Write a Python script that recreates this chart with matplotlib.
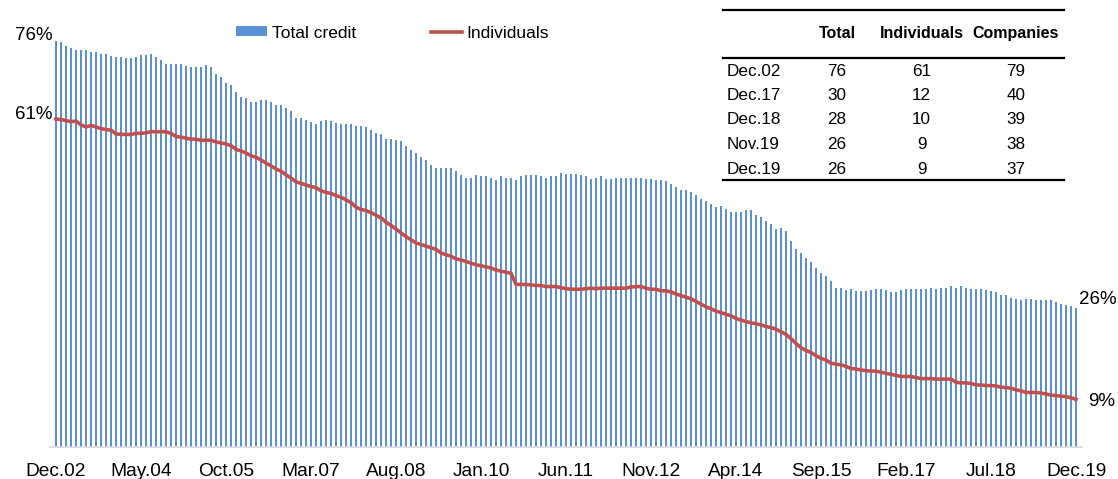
import matplotlib
matplotlib.use("Agg")
import matplotlib.pyplot as plt
from matplotlib.lines import Line2D
from matplotlib.patches import Patch

plt.rcParams['font.family'] = ['Liberation Sans', 'DejaVu Sans']

# ---- data ----
total_credit = [
    76.2, 76.0, 75.3, 74.9, 74.6, 74.5, 74.5, 74.2, 74.2, 73.9,
    73.9, 73.5, 73.3, 73.3, 73.0, 73.0, 73.3, 73.6, 73.6, 73.8,
    73.3, 72.6, 71.9, 71.9, 71.9, 71.9, 71.6, 71.3, 71.4, 71.4,
    71.7, 71.4, 70.1, 69.5, 68.4, 68.0, 66.6, 65.7, 65.5, 64.8,
    64.8, 65.2, 65.2, 64.8, 64.3, 64.3, 63.6, 63.1, 61.8, 61.8,
    61.5, 61.1, 60.7, 61.3, 61.5, 61.3, 60.9, 60.6, 60.7, 60.6,
    60.3, 60.3, 60.0, 59.5, 58.9, 58.7, 57.9, 57.9, 57.7, 57.4,
    56.5, 55.7, 55.2, 54.5, 53.8, 52.9, 52.4, 52.4, 52.4, 52.4,
    51.9, 51.0, 50.5, 50.5, 51.0, 50.8, 50.8, 50.5, 50.2, 50.8,
    50.5, 50.5, 50.1, 50.8, 51.0, 51.0, 51.0, 50.8, 50.5, 50.8,
    50.8, 51.5, 51.3, 51.3, 51.3, 51.0, 50.8, 50.4, 50.5, 50.8,
    50.4, 50.4, 50.5, 50.5, 50.5, 50.5, 50.5, 50.5, 50.4, 50.4,
    50.1, 50.1, 49.9, 49.4, 48.8, 48.3, 48.2, 47.8, 47.4, 46.6,
    46.1, 45.7, 45.0, 45.3, 44.6, 44.1, 44.1, 44.1, 44.4, 44.4,
    43.6, 43.1, 42.5, 41.9, 40.9, 41.1, 40.5, 38.6, 37.2, 36.5,
    35.5, 34.7, 33.6, 32.6, 32.0, 31.1, 29.9, 29.9, 29.4, 29.7,
    29.2, 29.2, 29.2, 29.4, 29.7, 29.7, 29.4, 29.1, 29.1, 29.4,
    29.7, 29.7, 29.7, 29.7, 29.7, 29.9, 29.7, 29.9, 29.9, 30.2,
    29.9, 30.2, 29.9, 29.7, 29.7, 29.7, 29.4, 29.2, 29.0, 28.6,
    28.6, 27.9, 27.8, 27.6, 27.8, 27.8, 27.6, 27.6, 27.6, 27.5,
    27.2, 26.8, 26.7, 26.4, 26.1,
]

individuals = [
    61.6, 61.5, 61.3, 61.1, 61.2, 60.5, 60.1, 60.4, 60.1, 59.8,
    59.6, 59.5, 58.8, 58.7, 58.7, 58.7, 58.9, 58.9, 59.0, 59.2,
    59.2, 59.2, 59.2, 58.9, 58.3, 58.2, 58.0, 57.8, 57.8, 57.6,
    57.6, 57.6, 57.3, 57.1, 56.9, 56.6, 55.9, 55.6, 55.2, 54.7,
    54.4, 53.9, 53.3, 52.8, 52.2, 51.8, 51.1, 50.5, 49.8, 49.5,
    49.2, 48.9, 48.7, 48.1, 47.8, 47.6, 47.2, 46.9, 46.4, 45.9,
    45.0, 44.6, 44.4, 44.0, 43.5, 43.0, 42.2, 41.6, 40.9, 40.2,
    39.5, 38.9, 38.3, 38.0, 37.7, 37.4, 37.1, 36.4, 36.1, 35.8,
    35.3, 35.1, 34.8, 34.5, 34.2, 34.0, 33.8, 33.6, 33.2, 33.0,
    32.8, 32.6, 30.5, 30.5, 30.5, 30.4, 30.3, 30.3, 30.1, 30.1,
    30.1, 29.9, 29.7, 29.6, 29.6, 29.6, 29.7, 29.8, 29.7, 29.8,
    29.8, 29.8, 29.8, 29.8, 29.8, 30.0, 30.1, 30.1, 29.8, 29.6,
    29.6, 29.3, 29.3, 29.1, 28.7, 28.4, 28.1, 27.8, 27.3, 26.8,
    26.3, 25.9, 25.5, 25.2, 24.9, 24.6, 24.1, 23.8, 23.5, 23.3,
    23.1, 22.9, 22.6, 22.4, 22.1, 21.6, 21.1, 20.3, 19.4, 18.6,
    18.1, 17.7, 17.1, 16.6, 16.3, 15.7, 15.5, 15.4, 15.1, 14.7,
    14.6, 14.4, 14.3, 14.2, 14.2, 14.0, 13.8, 13.6, 13.4, 13.2,
    13.2, 13.2, 13.0, 12.8, 12.8, 12.8, 12.7, 12.7, 12.7, 12.7,
    12.1, 12.0, 12.0, 11.9, 11.6, 11.6, 11.5, 11.5, 11.4, 11.2,
    11.1, 11.0, 10.7, 10.5, 10.2, 10.2, 10.2, 10.1, 9.9, 9.7,
    9.6, 9.5, 9.4, 9.2, 8.9,
]

tick_labels = ['Dec.02', 'May.04', 'Oct.05', 'Mar.07', 'Aug.08', 'Jan.10', 'Jun.11',
               'Nov.12', 'Apr.14', 'Sep.15', 'Feb.17', 'Jul.18', 'Dec.19']
tick_step = 17

table_cols = ['Total', 'Individuals', 'Companies']
table_rows = ['Dec.02', 'Dec.17', 'Dec.18', 'Nov.19', 'Dec.19']
table_total = [76, 30, 28, 26, 26]
table_individuals = [61, 12, 10, 9, 9]
table_companies = [79, 40, 39, 38, 37]

# ---- figure ----
W, H = 1118, 479
fig = plt.figure(figsize=(W / 100, H / 100), dpi=100)

def fx(px):
    return px / W

def fy(py):
    return 1 - py / H

ax = fig.add_axes([fx(50), fy(446.7), fx(1032), 425.6 / H])
n = len(total_credit)
x = list(range(n))
BLUE = '#5B8FD6'
RED = '#C0504D'
ax.bar(x, total_credit, width=0.5, color=BLUE, linewidth=0, zorder=2)
ax.plot(x, individuals, color=RED, lw=2.6, zorder=3, solid_joinstyle='round')

ax.set_xlim(-1.2, 205.2)
ax.set_ylim(0, 80)
for s in ['top', 'right', 'left']:
    ax.spines[s].set_visible(False)
ax.spines['bottom'].set_color('#D9D9D9')
ax.spines['bottom'].set_linewidth(1.2)
ax.set_yticks([])
ax.set_xticks(list(range(0, n, tick_step)))
ax.set_xticklabels(tick_labels, fontsize=13.8)
ax.tick_params(axis='x', length=0, pad=11.5)

# end-point labels (rounded values as in the table)
ax.annotate(f"{table_total[0]}%", xy=(0, total_credit[0]), xytext=(-2.5, 4.5),
            textcoords='offset points', ha='right', va='center', fontsize=13.5)
ax.annotate(f"{table_individuals[0]}%", xy=(0, individuals[0]), xytext=(-2.5, 3),
            textcoords='offset points', ha='right', va='center', fontsize=13.5)
ax.annotate(f"{table_total[-1]}%", xy=(n - 1, total_credit[-1]), xytext=(2, 6),
            textcoords='offset points', ha='left', va='center', fontsize=13.5)
ax.annotate(f"{table_individuals[-1]}%", xy=(n - 1, individuals[-1]), xytext=(8.5, -1.3),
            textcoords='offset points', ha='left', va='center', fontsize=13.5)

# legend
handles = [Patch(facecolor=BLUE, edgecolor='none', label='Total credit'),
           Line2D([0], [0], color=RED, lw=2.6, label='Individuals')]
fig.legend(handles=handles, loc='center left', bbox_to_anchor=(fx(236), fy(33)),
           bbox_transform=fig.transFigure, ncol=2, frameon=False, fontsize=12.5,
           borderpad=0, borderaxespad=0, handlelength=1.8, handleheight=0.5,
           handletextpad=0.25, columnspacing=4.35)

# table
for yy in (10, 58, 180):
    fig.add_artist(Line2D([fx(723), fx(1064)], [fy(yy), fy(yy)], color='black', lw=1.6))
col_x = [837, 921.5, 1015.7]
for cx, name in zip(col_x, table_cols):
    fig.text(fx(cx), fy(33.5), name, ha='center', va='center', fontsize=11.5, fontweight='bold')
row_y = [71, 95.7, 120, 144.3, 169.3]
for ry, lab, a, b, c in zip(row_y, table_rows, table_total, table_individuals, table_companies):
    fig.text(fx(727), fy(ry), lab, ha='left', va='center', fontsize=12.3)
    for cx, v in zip(col_x, (a, b, c)):
        fig.text(fx(cx), fy(ry), str(v), ha='center', va='center', fontsize=12.3)

fig.savefig('out.png', dpi=100)
